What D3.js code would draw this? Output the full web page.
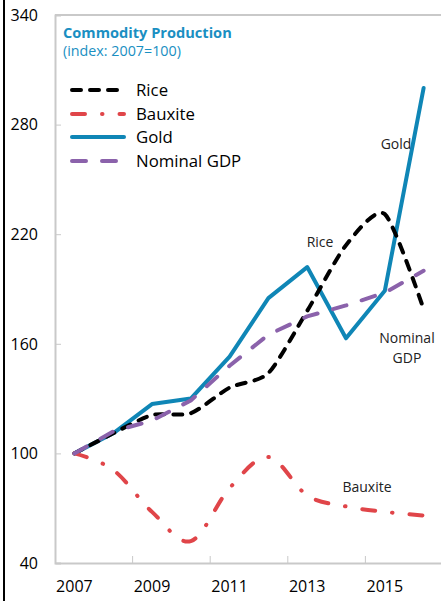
<!DOCTYPE html>
<html>
<head>
<meta charset="utf-8">
<script src="https://cdn.jsdelivr.net/npm/d3@7/dist/d3.min.js"></script>
<style>
  html, body { margin: 0; padding: 0; background: #fff; }
  svg { display: block; }
  text { font-family: "Open Sans", "Noto Sans", sans-serif; }
</style>
</head>
<body>
<svg id="chart" width="441" height="601"></svg>
<script>
const years = [2007, 2008, 2009, 2010, 2011, 2012, 2013, 2014, 2015, 2016];
const rice = [100, 111, 121, 122, 136, 144, 178, 214, 231, 179];
const bauxite = [100, 91, 68, 52, 81, 98, 77, 71, 68, 66];
const gold = [100, 111, 127, 130, 153, 185, 202, 163, 189, 300];
const nominalGDP = [100, 112, 118, 129, 148, 165, 175, 181, 188, 200];
const yTicks = [40, 100, 160, 220, 280, 340];
const xLabelYears = [2007, 2009, 2011, 2013, 2015];
const xTickYears = [2009, 2011, 2013, 2015];

const title = "Commodity Production";
const subtitle = "(index: 2007=100)";

const seriesList = [
  { name: "Gold", values: gold, color: "#0f86b6", dash: null, curve: d3.curveLinear },
  { name: "Rice", values: rice, color: "#000000", dash: "9,9", curve: d3.curveCardinal.tension(0.3) },
  { name: "Bauxite", values: bauxite, color: "#e04549", dash: "13,17,0.5,17", curve: d3.curveCardinal.tension(0) },
  { name: "Nominal GDP", values: nominalGDP, color: "#8b62ab", dash: "14,16", curve: d3.curveLinear }
];
const legendOrder = ["Rice", "Bauxite", "Gold", "Nominal GDP"];

const svg = d3.select("#chart");
const mLeft = 55, mRight = 443, mTop = 15, mBottom = 563;

const x = d3.scaleBand().domain(years).range([mLeft, mRight]).padding(0);
const y = d3.scaleLinear().domain([40, 340]).range([mBottom, mTop]);
const xc = d => x(d) + x.bandwidth() / 2;

// outer black edge line
svg.append("rect").attr("x", 3).attr("y", 0).attr("width", 2).attr("height", 601).attr("fill", "#000");

// frame
const gray = "#c9c9c9";
svg.append("line").attr("x1", mLeft).attr("x2", 441).attr("y1", mTop).attr("y2", mTop)
  .attr("stroke", gray).attr("stroke-width", 2);

// y axis
const yAxis = d3.axisRight(y).tickValues(yTicks).tickSize(6).tickFormat("");
const gy = svg.append("g").attr("transform", `translate(${mLeft},0)`).call(yAxis);
gy.select(".domain").attr("stroke", gray).attr("stroke-width", 2);
gy.selectAll(".tick line").attr("stroke", gray).attr("stroke-width", 1);

svg.append("g").selectAll("text").data(yTicks).join("text")
  .attr("x", 38).attr("y", d => y(d)).attr("dy", "0.36em")
  .attr("text-anchor", "end").attr("font-size", 16).attr("fill", "#000")
  .text(d => d);

// x axis
const gx = svg.append("g").attr("transform", `translate(0,${mBottom})`)
  .call(d3.axisTop(x).tickValues([]).tickSize(0).tickSizeOuter(0));
gx.select(".domain").attr("stroke", gray).attr("stroke-width", 2);
svg.append("g").selectAll("line").data(xTickYears).join("line")
  .attr("x1", d => x(d)).attr("x2", d => x(d))
  .attr("y1", mBottom).attr("y2", mBottom - 7)
  .attr("stroke", gray).attr("stroke-width", 1);
svg.append("g").selectAll("text").data(xLabelYears).join("text")
  .attr("x", d => xc(d)).attr("y", 592)
  .attr("text-anchor", "middle").attr("font-size", 16).attr("fill", "#000")
  .text(d => d);

// lines
seriesList.forEach(s => {
  const line = d3.line().x((d, i) => xc(years[i])).y(d => y(d)).curve(s.curve);
  svg.append("path").datum(s.values)
    .attr("d", line)
    .attr("fill", "none")
    .attr("stroke", s.color)
    .attr("stroke-width", 4)
    .attr("stroke-linecap", "round")
    .attr("stroke-linejoin", "round")
    .attr("stroke-dasharray", s.dash);
});

// title
svg.append("text").attr("x", 63).attr("y", 38).attr("font-size", 14.6).attr("font-weight", "bold")
  .attr("fill", "#1a8fc2").text(title);
svg.append("text").attr("x", 63).attr("y", 56).attr("font-size", 14.3)
  .attr("fill", "#1a8fc2").text(subtitle);

// legend
const legendY = [90, 114, 137, 161];
legendOrder.forEach((name, i) => {
  const s = seriesList.find(d => d.name === name);
  const ly = legendY[i];
  svg.append("line").attr("x1", 72).attr("x2", 124).attr("y1", ly).attr("y2", ly)
    .attr("stroke", s.color).attr("stroke-width", 4)
    .attr("stroke-linecap", "round")
    .attr("stroke-dasharray", s.dash);
  svg.append("text").attr("x", 136).attr("y", ly).attr("dy", "0.36em")
    .attr("font-size", 16.8).attr("fill", "#000").text(name);
});

// annotations
const ann = [
  { t: "Rice", x: 320, y: 242 },
  { t: "Gold", x: 396, y: 144 },
  { t: "Nominal", x: 407, y: 338 },
  { t: "GDP", x: 407, y: 358 },
  { t: "Bauxite", x: 367, y: 487 }
];
svg.append("g").selectAll("text").data(ann).join("text")
  .attr("x", d => d.x).attr("y", d => d.y).attr("dy", "0.36em")
  .attr("text-anchor", "middle").attr("font-size", 14).attr("fill", "#222")
  .text(d => d.t);
</script>
</body>
</html>
